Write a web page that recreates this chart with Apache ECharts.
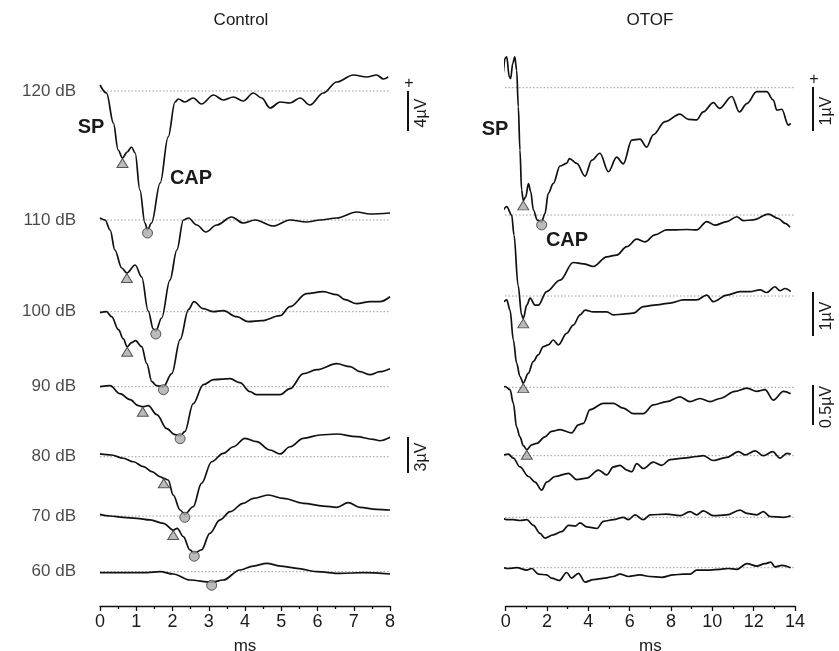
<!DOCTYPE html>
<html>
<head>
<meta charset="utf-8">
<script src="https://cdn.jsdelivr.net/npm/echarts@6/dist/echarts.min.js"></script>
<style>
  html, body { margin: 0; background: #fff; }
  #main { width: 839px; height: 651px; }
</style>
</head>
<body>
<div id="main"></div>
<script>
// stimulus levels, top to bottom
var levels = ['120 dB', '110 dB', '100 dB', '90 dB', '80 dB', '70 dB', '60 dB'];

// Control traces: [time ms, deflection µV]
var ctrl120 = [[0,0.6],[0.18,-0.2],[0.37,-3.2],[0.5,-5.9],[0.62,-6.7],[0.75,-6.1],[0.87,-5.6],[0.97,-6.2],[1.10,-9.9],[1.24,-13.2],[1.31,-13.9],[1.42,-13.2],[1.66,-9.2],[1.88,-4.6],[2.07,-1.1],[2.16,-0.8],[2.34,-1.1],[2.57,-0.7],[2.80,-1.3],[3.13,-0.4],[3.40,-0.9],[3.68,-0.6],[3.95,-1.0],[4.23,-0.2],[4.46,-0.7],[4.69,-1.7],[4.97,-1.1],[5.24,-1.2],[5.52,-0.7],[5.79,-1.4],[6.16,-0.2],[6.53,0.9],[6.99,1.6],[7.36,1.4],[7.63,1.6],[7.82,1.2],[7.95,1.4]];
var ctrl110 = [[0,0.2],[0.14,0],[0.28,-1.0],[0.41,-3.0],[0.60,-4.8],[0.74,-5.3],[0.97,-4.5],[1.15,-5.7],[1.33,-9.1],[1.47,-10.9],[1.54,-11.1],[1.70,-9.8],[1.93,-6.0],[2.12,-3.0],[2.30,0],[2.44,0.2],[2.67,-0.5],[2.92,-1.2],[3.22,-0.5],[3.63,0.3],[3.95,-0.3],[4.28,0],[4.78,-0.6],[5.24,0],[5.70,-0.2],[6.07,0],[6.53,0.2],[7.08,0.8],[7.45,0.6],[8.0,0.7]];
var ctrl100 = [[0,-0.1],[0.18,0],[0.32,-0.5],[0.51,-1.8],[0.64,-2.7],[0.75,-3.5],[0.87,-3.1],[0.98,-2.9],[1.15,-3.5],[1.29,-5.2],[1.43,-7.0],[1.56,-7.4],[1.75,-7.5],[1.98,-6.2],[2.21,-2.8],[2.44,0.2],[2.59,1.0],[2.85,0.3],[3.13,0],[3.40,0.1],[3.77,-0.5],[4.09,-1.0],[4.46,-0.9],[4.97,-0.4],[5.24,0.5],[5.70,1.8],[6.16,2.0],[6.53,1.7],[6.76,1.2],[7.08,0.8],[7.45,1.0],[7.72,1.0],[8.0,1.5]];
var ctrl90 = [[0,0],[0.28,0.1],[0.55,-0.7],[0.83,-1.3],[1.06,-1.9],[1.18,-2.0],[1.33,-1.9],[1.57,-2.8],[1.84,-4.2],[2.07,-4.8],[2.21,-4.9],[2.34,-4.5],[2.57,-1.7],[2.85,0.2],[3.13,0.7],[3.59,0.8],[3.86,0.4],[4.14,-0.5],[4.32,-0.8],[4.69,-0.8],[4.97,-0.8],[5.24,-0.2],[5.61,1.3],[5.98,1.7],[6.53,2.3],[6.90,2.0],[7.17,1.5],[7.45,1.2],[7.72,1.5],[8.0,1.8]];
var ctrl80 = [[0,0.23],[0.32,0.14],[0.64,-0.13],[0.92,-0.42],[1.20,-0.83],[1.43,-1.25],[1.66,-1.67],[1.76,-1.8],[1.88,-1.94],[2.02,-3.19],[2.21,-4.44],[2.34,-4.8],[2.57,-4.17],[2.80,-2.22],[3.08,-0.42],[3.40,0.28],[3.68,0.83],[4.0,1.53],[4.32,1.25],[4.69,0.56],[4.97,0.23],[5.24,0.83],[5.61,1.53],[6.07,1.81],[6.53,1.89],[7.08,1.67],[7.54,1.45],[7.72,1.33],[8.0,1.62]];
var ctrl70 = [[0,0.14],[0.28,0],[0.64,-0.11],[1.01,-0.19],[1.38,-0.33],[1.75,-0.61],[2.02,-1.17],[2.13,-1.03],[2.30,-1.72],[2.48,-2.83],[2.60,-3.1],[2.80,-2.83],[3.03,-1.44],[3.31,-0.33],[3.59,0.36],[3.95,1.06],[4.23,1.47],[4.64,1.75],[5.06,1.47],[5.61,1.06],[6.16,0.83],[6.53,0.72],[6.85,1.11],[7.17,0.72],[7.63,0.56],[8.0,0.5]];
var ctrl60 = [[0,-0.08],[0.64,-0.08],[1.29,-0.08],[1.66,0],[2.02,-0.19],[2.48,-0.69],[3.08,-0.88],[3.4,-0.69],[3.86,0.14],[4.23,0.47],[4.60,0.70],[4.97,0.47],[5.43,0.28],[5.98,0],[6.62,-0.14],[7.26,-0.08],[8.0,-0.19]];

// OTOF traces: [time ms, deflection µV]
var otof120 = [[-0.24,-0.20],[-0.15,0.25],[-0.03,0.67],[0.05,0.70],[0.17,0.25],[0.24,0.21],[0.34,0.55],[0.44,0.70],[0.53,0.40],[0.61,-0.43],[0.69,-1.42],[0.77,-2.33],[0.85,-2.56],[0.97,-2.48],[1.10,-2.18],[1.21,-2.36],[1.34,-2.78],[1.53,-3.01],[1.74,-3.05],[1.90,-2.86],[2.06,-2.40],[2.30,-2.18],[2.63,-1.78],[2.95,-1.72],[3.08,-1.61],[3.44,-1.72],[3.84,-2.01],[4.16,-1.65],[4.56,-1.49],[4.97,-1.91],[5.37,-1.58],[5.69,-1.73],[6.10,-1.19],[6.50,-1.17],[6.82,-1.35],[7.14,-1.07],[7.71,-0.77],[8.43,-0.60],[8.84,-0.72],[9.24,-0.73],[9.56,-0.55],[10.05,-0.34],[10.34,-0.47],[10.94,-0.20],[11.31,-0.55],[11.67,-0.36],[12.15,-0.09],[12.63,-0.09],[12.95,-0.28],[13.12,-0.51],[13.36,-0.49],[13.68,-0.85],[13.79,-0.81]];
var otof110 = [[-0.24,0],[0.05,0.19],[0.29,0],[0.40,-0.45],[0.60,-1.6],[0.77,-2.27],[0.85,-2.35],[1.02,-2.05],[1.18,-1.89],[1.42,-2.05],[1.58,-2.05],[1.98,-1.74],[2.63,-1.48],[3.27,-1.08],[3.76,-1.11],[4.24,-1.17],[4.89,-0.95],[5.37,-0.91],[5.86,-0.72],[6.34,-0.55],[6.74,-0.61],[7.22,-0.45],[7.79,-0.34],[8.11,-0.34],[8.76,-0.33],[9.24,-0.34],[9.73,-0.15],[10.13,-0.23],[10.70,-0.15],[11.18,-0.04],[11.50,-0.13],[11.98,-0.11],[12.71,0.02],[13.19,-0.08],[13.52,-0.19],[13.76,-0.28]];
var otof100 = [[-0.24,-0.28],[-0.12,-0.13],[0.05,-0.09],[0.21,-0.32],[0.37,-1.0],[0.53,-1.53],[0.69,-1.83],[0.85,-1.98],[1.09,-1.76],[1.33,-1.49],[1.57,-1.34],[1.82,-1.15],[2.06,-1.11],[2.30,-1.0],[2.55,-1.11],[2.95,-0.85],[3.27,-0.66],[3.60,-0.43],[3.84,-0.32],[4.24,-0.36],[4.89,-0.36],[5.21,-0.43],[5.69,-0.41],[6.18,-0.39],[6.66,-0.24],[7.31,-0.20],[7.95,-0.16],[8.60,-0.09],[9.24,-0.09],[9.73,0.02],[10.05,-0.13],[10.70,0.02],[11.34,0.10],[11.82,0.10],[12.31,0.14],[12.63,0.08],[13.03,0.21],[13.27,0.12],[13.52,0.17],[13.79,0.10]];
var otof90 = [[-0.24,-0.03],[-0.03,0.01],[0.21,-0.03],[0.37,-0.20],[0.53,-0.50],[0.69,-0.62],[0.85,-0.73],[1.02,-0.78],[1.26,-0.72],[1.50,-0.70],[1.90,-0.62],[2.22,-0.55],[2.63,-0.53],[3.19,-0.57],[3.52,-0.47],[3.76,-0.45],[4.08,-0.28],[4.73,-0.20],[5.21,-0.20],[5.69,-0.26],[6.18,-0.33],[6.66,-0.33],[7.14,-0.22],[7.79,-0.18],[8.43,-0.12],[8.92,-0.18],[9.40,-0.14],[9.89,-0.18],[10.37,-0.14],[11.10,-0.05],[11.67,-0.01],[12.15,-0.05],[12.55,-0.03],[12.95,-0.16],[13.44,-0.05],[13.79,-0.08]];
var otof80 = [[-0.24,0],[0.13,0.02],[0.37,-0.03],[0.69,-0.14],[1.10,-0.26],[1.42,-0.33],[1.74,-0.43],[1.98,-0.33],[2.39,-0.26],[3.04,-0.22],[3.44,-0.30],[3.92,-0.28],[4.49,-0.18],[4.89,-0.24],[5.21,-0.14],[5.53,-0.12],[5.86,-0.18],[6.10,-0.20],[6.34,-0.10],[6.66,-0.16],[7.14,-0.08],[7.55,-0.12],[7.95,-0.05],[8.60,-0.03],[9.24,-0.01],[9.56,0],[10.05,-0.06],[10.70,-0.02],[11.26,0.05],[11.58,0.01],[12.07,0.06],[12.47,0],[12.92,0.05],[13.28,-0.03],[13.60,0.03],[13.79,0.02]];
var otof70 = [[-0.24,0.01],[0.05,-0.03],[0.37,-0.03],[0.69,-0.04],[1.02,-0.03],[1.34,-0.10],[1.66,-0.20],[1.90,-0.26],[2.30,-0.22],[2.71,-0.18],[3.04,-0.10],[3.36,-0.11],[3.60,-0.07],[3.92,-0.12],[4.41,-0.14],[4.73,-0.05],[5.21,-0.03],[5.69,0],[5.94,-0.03],[6.26,0.03],[6.66,-0.03],[6.99,0.03],[7.79,0.04],[8.43,0.02],[8.92,0.07],[9.24,0.03],[9.56,0.08],[10.05,0.02],[10.70,0.03],[11.34,0.09],[11.67,0.05],[12.15,0.03],[12.47,0.07],[12.79,0.01],[13.44,0],[13.79,0.02]];
var otof60 = [[-0.24,0.01],[0.13,-0.01],[0.53,0],[1.02,-0.03],[1.26,-0.01],[1.58,-0.08],[1.98,-0.09],[2.22,-0.13],[2.59,-0.16],[2.95,-0.06],[3.19,-0.13],[3.52,-0.07],[3.84,-0.18],[4.24,-0.15],[4.81,-0.13],[5.21,-0.11],[5.53,-0.08],[5.94,-0.11],[6.50,-0.09],[6.98,-0.11],[7.55,-0.12],[8.11,-0.09],[8.60,-0.08],[8.92,-0.08],[9.24,-0.03],[9.89,-0.03],[10.37,-0.02],[10.77,-0.01],[11.18,-0.02],[11.67,0.05],[12.15,0.02],[12.55,0.05],[12.83,0.07],[13.03,0.01],[13.36,0.03],[13.79,0]];

// SP (triangle) and CAP (circle) latency ms / amplitude µV, null = not marked
var ctrlSpT   = [0.62, 0.74, 0.75, 1.18, 1.76, 2.02, null];
var ctrlSpV   = [-6.7, -5.3, -3.5, -2.0, -1.8, -1.17, null];
var ctrlCapT  = [1.31, 1.54, 1.75, 2.21, 2.34, 2.60, 3.08];
var ctrlCapV  = [-13.9, -11.1, -7.5, -4.9, -4.8, -3.1, -0.88];
var otofSpT   = [0.85, 0.85, 0.85, 1.02, null, null, null];
var otofSpV   = [-2.56, -2.35, -1.98, -0.78, null, null, null];
var otofCapT  = [1.74, null, null, null, null, null, null];
var otofCapV  = [-3.05, null, null, null, null, null, null];

// display gain (px per µV) and stacking offsets of each trace
var ctrlGain = [10, 10, 10, 10, 12, 12, 12];
var otofGain = [44, 44, 44, 80, 80, 80, 80];
var ctrlOffset = [515, 386, 294.3, 219.3, 149.3, 90, 34.3];
var otofOffset = [518.3, 391, 310, 218.7, 150.3, 88.7, 38.3];

var FONT = 'Liberation Sans, Arial, Helvetica, sans-serif';
var chart = echarts.init(document.getElementById('main'));
var series = [];

function place(trace, off, gain) {
    return trace.map(function (p) { return [p[0], off + p[1] * gain]; });
}

function markers(ts, vs, offs, gains) {
    var out = [];
    for (var i = 0; i < ts.length; i++) {
        if (ts[i] !== null) out.push([ts[i], offs[i] + vs[i] * gains[i]]);
    }
    return out;
}

function addPanel(g, traces, offs, gains, x0, x1, spT, spV, capT, capV) {
    for (var i = 0; i < traces.length; i++) {
        series.push({
            type: 'line', xAxisIndex: g, yAxisIndex: g, z: 1, silent: true,
            showSymbol: false, clip: false,
            data: [[x0, offs[i]], [x1, offs[i]]],
            lineStyle: { color: '#9a9a9a', width: 1, type: [1.5, 2] }
        });
        series.push({
            type: 'line', xAxisIndex: g, yAxisIndex: g, z: 3, silent: true,
            showSymbol: false, clip: false, smooth: 0.35, smoothMonotone: 'x',
            data: place(traces[i], offs[i], gains[i]),
            lineStyle: { color: '#111', width: 1.7 }
        });
    }
    series.push({
        type: 'scatter', xAxisIndex: g, yAxisIndex: g, z: 5, silent: true,
        symbol: 'triangle', symbolSize: [11, 9], symbolOffset: [0, 5],
        itemStyle: { color: '#aaaaaa', borderColor: '#333', borderWidth: 1 },
        data: markers(spT, spV, offs, gains)
    });
    series.push({
        type: 'scatter', xAxisIndex: g, yAxisIndex: g, z: 5, silent: true,
        symbol: 'circle', symbolSize: 10, symbolOffset: [0, 3],
        itemStyle: { color: '#aaaaaa', borderColor: '#333', borderWidth: 1 },
        data: markers(capT, capV, offs, gains)
    });
}

addPanel(0, [ctrl120, ctrl110, ctrl100, ctrl90, ctrl80, ctrl70, ctrl60], ctrlOffset, ctrlGain, 0, 8,
    ctrlSpT, ctrlSpV, ctrlCapT, ctrlCapV);
addPanel(1, [otof120, otof110, otof100, otof90, otof80, otof70, otof60], otofOffset, otofGain, -0.2, 14,
    otofSpT, otofSpV, otofCapT, otofCapV);

// level labels left of the control traces
series.push({
    type: 'scatter', xAxisIndex: 0, yAxisIndex: 0, silent: true, symbolSize: 0,
    data: ctrlOffset.map(function (o, i) { return { value: [0, o], name: levels[i] }; }),
    label: { show: true, position: 'left', distance: 24, formatter: '{b}',
        color: '#1a1a1a', fontSize: 17, fontFamily: FONT }
});

function xAxisCfg(g, max, step) {
    return {
        gridIndex: g, type: 'value', min: 0, max: max, interval: step,
        axisLine: { onZero: false, lineStyle: { color: '#111', width: 1.3 } },
        axisTick: { length: 5, lineStyle: { color: '#111', width: 1.3 } },
        minorTick: { show: true, splitNumber: 2, length: 3, lineStyle: { color: '#111', width: 1.3 } },
        splitLine: { show: false },
        axisLabel: { fontSize: 18, color: '#1a1a1a', margin: 7, fontFamily: FONT },
        name: 'ms', nameLocation: 'middle', nameGap: 32,
        nameTextStyle: { fontSize: 17, color: '#1a1a1a', fontFamily: FONT }
    };
}

chart.setOption({
    animation: false,
    grid: [
        { left: 100, width: 290, top: 40, height: 566, outerBoundsMode: 'none', containLabel: false },
        { left: 505.7, width: 289.3, top: 40, height: 566, outerBoundsMode: 'none', containLabel: false }
    ],
    xAxis: [xAxisCfg(0, 8, 1), xAxisCfg(1, 14, 2)],
    yAxis: [
        { gridIndex: 0, type: 'value', min: 0, max: 566, show: false },
        { gridIndex: 1, type: 'value', min: 0, max: 566, show: false }
    ],
    series: series
});

// scale bars: grid, x px, top (axis units), µV, gain, label
var bars = [
    { g: 0, x: 408, top: 515, uv: 4, gain: 10, text: '4µV', plus: true },
    { g: 0, x: 408, top: 169, uv: 3, gain: 12, text: '3µV' },
    { g: 1, x: 813, top: 519, uv: 1, gain: 44, text: '1µV', plus: true },
    { g: 1, x: 813, top: 314, uv: 1, gain: 44, text: '1µV' },
    { g: 1, x: 813, top: 221, uv: 0.5, gain: 80, text: '0.5µV' }
];

var graphic = [];
function txt(x, y, s, size, bold, rot) {
    graphic.push({
        type: 'text', x: x, y: y, rotation: rot || 0, silent: true,
        style: { text: s, fill: '#1a1a1a', fontSize: size, fontWeight: bold ? 'bold' : 'normal',
            fontFamily: FONT, align: 'center', verticalAlign: 'middle' }
    });
}
txt(241, 20, 'Control', 17);
txt(650, 20, 'OTOF', 17);
txt(91, 127, 'SP', 20, true);
txt(191, 178, 'CAP', 20, true);
txt(495, 129, 'SP', 20, true);
txt(567, 240, 'CAP', 20, true);

bars.forEach(function (b) {
    var y0 = chart.convertToPixel({ yAxisIndex: b.g }, b.top);
    var y1 = chart.convertToPixel({ yAxisIndex: b.g }, b.top - b.uv * b.gain);
    graphic.push({
        type: 'line', silent: true,
        shape: { x1: b.x, y1: y0, x2: b.x, y2: y1 },
        style: { stroke: '#111', lineWidth: 2 }
    });
    txt(b.x + 14, (y0 + y1) / 2 + 2, b.text, 16, false, Math.PI / 2);
    if (b.plus) txt(b.x + 1, y0 - 7, '+', 16);
});

chart.setOption({ graphic: graphic });
</script>
</body>
</html>
